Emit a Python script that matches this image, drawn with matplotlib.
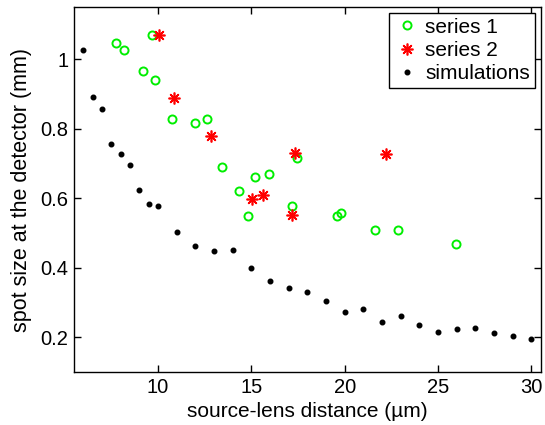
import numpy as np
import matplotlib.pyplot as plt

plt.rcParams['font.family'] = ['Liberation Sans', 'DejaVu Sans']

# series 1 (green circles)
s1_x = [7.77, 8.16, 9.65, 9.2, 9.81, 10.73, 11.98, 12.64, 13.43, 14.32, 15.21, 15.93,
        14.84, 17.19, 17.44, 19.6, 19.82, 21.65, 22.83, 25.95]
s1_y = [1.048, 1.028, 1.069, 0.968, 0.94, 0.829, 0.818, 0.829, 0.69, 0.62, 0.66, 0.67,
        0.55, 0.579, 0.717, 0.549, 0.558, 0.509, 0.509, 0.468]

# series 2 (red asterisks)
s2_x = [10.04, 10.86, 12.86, 15.05, 15.6, 17.19, 17.33, 22.23]
s2_y = [1.069, 0.889, 0.779, 0.599, 0.609, 0.551, 0.73, 0.729]

# simulations (black dots)
sim_x = [6, 6.5, 7, 7.5, 8, 8.5, 9, 9.5, 10, 11, 12, 13, 14, 15, 16, 17, 18,
         19, 20, 21, 22, 23, 24, 25, 26, 27, 28, 29, 30]
sim_y = [1.026, 0.893, 0.856, 0.756, 0.729, 0.696, 0.625, 0.585, 0.578, 0.504, 0.4635,
         0.447, 0.45, 0.398, 0.363, 0.341, 0.329, 0.305, 0.273, 0.282, 0.245, 0.262,
         0.236, 0.214, 0.223, 0.226, 0.213, 0.203, 0.196]

fig = plt.figure(figsize=(5.45, 4.25), dpi=100)
ax = fig.add_axes([0.136, 0.1247, 0.856, 0.8581])

ax.plot(s1_x, s1_y, 'o', ls='none', mfc='none', mec='#00ee00', mew=1.4, ms=5.8, label='series 1')
ax.plot(s2_x, s2_y, ls='none', marker=(8, 2, 0), mec='#ff0000', mfc='#ff0000', mew=1.2, ms=8.5,
        label='series 2')
ax.plot(sim_x, sim_y, 'o', ls='none', color='black', ms=3.3, label='simulations')

ax.set_xlim(5.5, 30.5)
ax.set_ylim(0.1, 1.15)
ax.set_xticks([10, 15, 20, 25, 30])
ax.set_yticks([0.2, 0.4, 0.6, 0.8, 1.0])
ax.set_yticklabels(['0.2', '0.4', '0.6', '0.8', '1'])
ax.tick_params(direction='in', top=True, right=True, labelsize=14.5, length=5, width=1, pad=4)
for s in ax.spines.values():
    s.set_linewidth(1)

ax.set_xlabel('source-lens distance (\u00b5m)', fontsize=15, labelpad=4)
ax.set_ylabel('spot size at the detector (mm)', fontsize=15.5, labelpad=6)

leg = ax.legend(loc='upper right', fontsize=15, fancybox=False, edgecolor='black',
                framealpha=1, borderaxespad=0.25, borderpad=0.25, handletextpad=0.3,
                labelspacing=0.2, handlelength=1.2, numpoints=1)
leg.get_frame().set_linewidth(1)

fig.savefig('out.png', dpi=100)
